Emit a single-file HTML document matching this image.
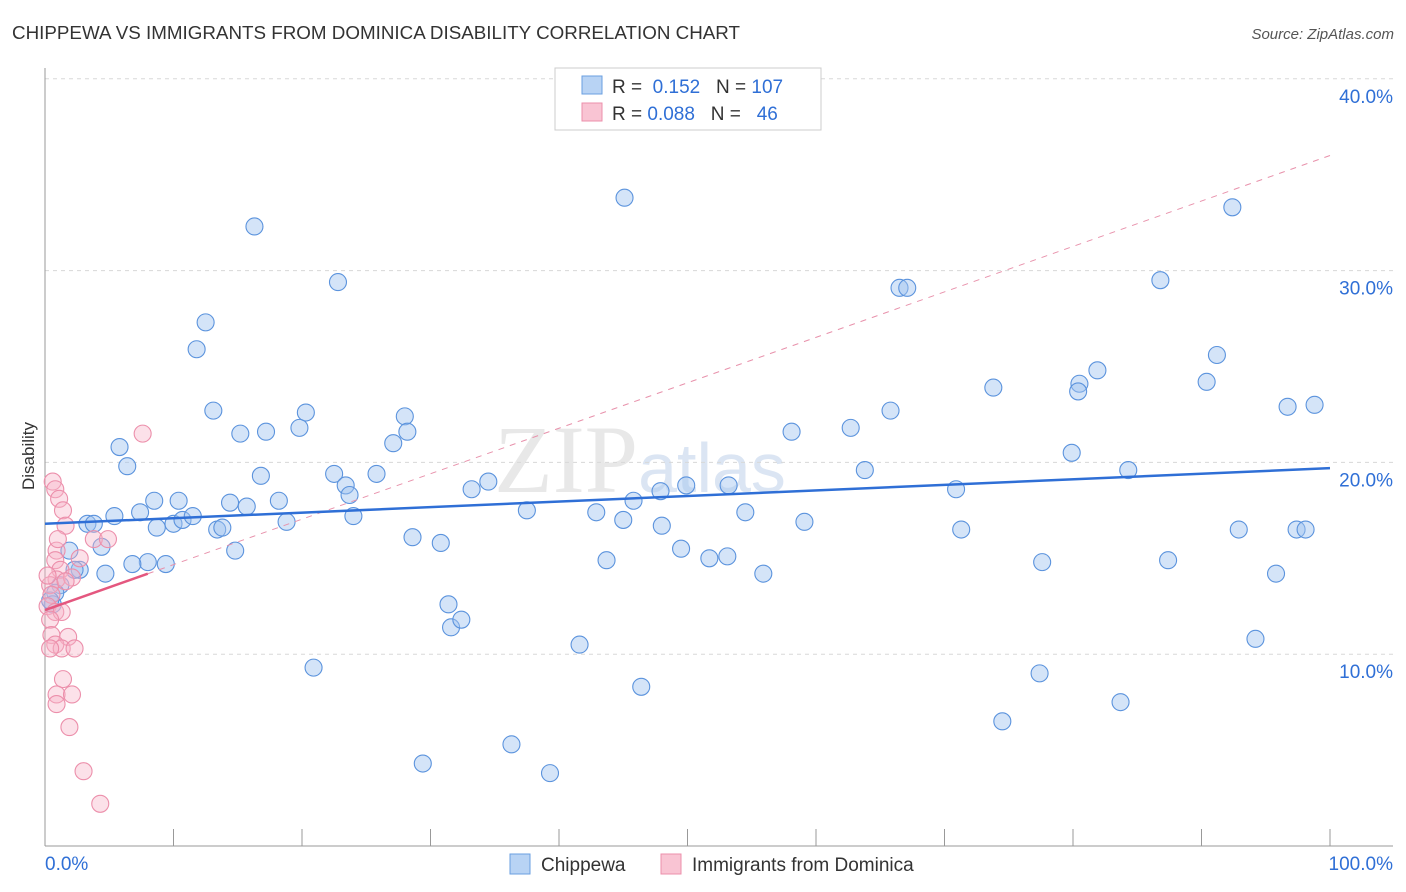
<!DOCTYPE html>
<html><head><meta charset="utf-8"><style>
body{margin:0;background:#fff;font-family:"Liberation Sans",sans-serif}
svg{display:block}
</style></head><body>
<svg id="chart" width="1406" height="892" viewBox="0 0 1406 892" xmlns="http://www.w3.org/2000/svg">
<text x="12" y="39" font-size="18" fill="#333" textLength="728" lengthAdjust="spacingAndGlyphs">CHIPPEWA VS IMMIGRANTS FROM DOMINICA DISABILITY CORRELATION CHART</text>
<text x="1394" y="39" font-size="15" fill="#555" font-style="italic" text-anchor="end">Source: ZipAtlas.com</text>
<text x="34" y="456" font-size="17" fill="#333" text-anchor="middle" transform="rotate(-90 34 456)">Disability</text>
<text x="640" y="492" font-size="96" fill="#e8e8e8" font-family="Liberation Serif,serif" text-anchor="middle">ZIP<tspan fill="#dbe5f3" font-family="Liberation Sans,sans-serif" font-size="70">atlas</tspan></text>
<g id="grid"></g><g id="marks"></g>
<g>
<rect x="555" y="68" width="266" height="62" fill="#fff" stroke="#ccc"/>
<rect x="582" y="76" width="20" height="18" fill="#b8d3f4" stroke="#6a9fe0"/>
<rect x="582" y="103" width="20" height="18" fill="#f9c4d3" stroke="#ec8fab"/>
<text x="612" y="93" font-size="19" fill="#333">R = <tspan fill="#2f6fd6">&#160;0.152</tspan>&#160;&#160;&#160;N = <tspan fill="#2f6fd6">107</tspan></text>
<text x="612" y="120" font-size="19" fill="#333">R = <tspan fill="#2f6fd6">0.088</tspan>&#160;&#160;&#160;N = <tspan fill="#2f6fd6">&#160;&#160;46</tspan></text>
</g>
<g>
<rect x="510" y="854" width="20" height="20" fill="#b8d3f4" stroke="#6a9fe0"/>
<text x="541" y="871" font-size="19" fill="#333">Chippewa</text>
<rect x="661" y="854" width="20" height="20" fill="#f9c4d3" stroke="#ec8fab"/>
<text x="692" y="871" font-size="19" fill="#333">Immigrants from Dominica</text>
</g>
</svg>
<script>
const yTicks=[10,20,30,40];
const xTickLabels=["0.0%","100.0%"];
const blueX=[16.3,45.1,22.8,12.5,11.8,13.1,15.2,17.2,20.3,19.8,28.0,28.2,27.1,5.8,6.4,16.8,22.5,25.8,23.4,23.7,33.2,34.5,8.5,10.4,14.4,15.7,18.2,7.4,5.4,3.3,3.8,8.7,10.0,10.7,11.5,13.4,13.8,18.8,24.0,37.5,42.9,45.0,45.8,47.9,49.9,53.2,48.0,54.5,59.1,58.1,62.7,63.8,65.8,66.5,67.1,73.8,70.9,71.3,79.9,80.5,80.4,81.9,84.3,86.8,90.4,91.2,92.4,92.9,96.7,98.8,97.4,98.1,95.8,94.2,87.4,77.6,77.4,83.7,74.5,55.9,53.1,51.7,49.5,43.7,46.4,41.6,39.3,36.3,29.4,20.9,31.4,31.6,32.4,28.6,30.8,14.8,9.4,8.0,6.8,4.7,4.4,2.7,2.3,1.9,1.2,0.8,0.6,0.4];
const blueY=[32.3,33.8,29.4,27.3,25.9,22.7,21.5,21.6,22.6,21.8,22.4,21.6,21.0,20.8,19.8,19.3,19.4,19.4,18.8,18.3,18.6,19.0,18.0,18.0,17.9,17.7,18.0,17.4,17.2,16.8,16.8,16.6,16.8,17.0,17.2,16.5,16.6,16.9,17.2,17.5,17.4,17.0,18.0,18.5,18.8,18.8,16.7,17.4,16.9,21.6,21.8,19.6,22.7,29.1,29.1,23.9,18.6,16.5,20.5,24.1,23.7,24.8,19.6,29.5,24.2,25.6,33.3,16.5,22.9,23.0,16.5,16.5,14.2,10.8,14.9,14.8,9.0,7.5,6.5,14.2,15.1,15.0,15.5,14.9,8.3,10.5,3.8,5.3,4.3,9.3,12.6,11.4,11.8,16.1,15.8,15.4,14.7,14.8,14.7,14.2,15.6,14.4,14.4,15.4,13.6,13.2,12.6,12.8];
const pinkX=[7.6,0.6,0.8,1.1,1.4,1.6,0.9,1.0,3.8,4.9,2.7,0.8,1.2,0.9,0.4,0.5,0.2,0.8,1.3,0.4,0.5,1.8,0.8,1.3,2.3,0.4,1.4,0.9,2.1,0.9,1.9,3.0,4.3,2.1,1.6,0.2];
const pinkY=[21.5,19.0,18.6,18.1,17.5,16.7,15.4,16.0,16.0,16.0,15.0,14.9,14.4,13.9,13.6,13.1,12.5,12.2,12.2,11.8,11.0,10.9,10.5,10.3,10.3,10.3,8.7,7.9,7.9,7.4,6.2,3.9,2.2,14.0,13.8,14.1];
const blueTrend=[16.8,19.7];
const pinkTrend=[12.3,36.0];
const pinkSolidEnd=8;
const NS="http://www.w3.org/2000/svg";
const X=v=>45+v*12.85, Y=v=>846-v*19.18;
function mk(t,a,p){const e=document.createElementNS(NS,t);for(const k in a)e.setAttribute(k,a[k]);p.appendChild(e);return e;}
const g=document.getElementById('grid'), m=document.getElementById('marks');
yTicks.forEach(t=>{
 const l=mk('line',{x1:45,x2:1393,y1:Y(t),y2:Y(t),stroke:'#d8d8d8','stroke-dasharray':'4,4'},g);
 
 
 const tx=mk('text',{x:1393,y:Y(t)+24,'font-size':19,fill:'#2f6fd6','text-anchor':'end'},g);
 tx.textContent=t.toFixed(1)+'%';
 
 
});
const ax=mk('line',{x1:45,x2:45,y1:68,y2:846,stroke:'#999'},g);


const bx=mk('line',{x1:45,x2:1393,y1:846,y2:846,stroke:'#999'},g);


for(let i=1;i<=10;i++){const t=mk('line',{x1:X(i*10),x2:X(i*10),y1:829,y2:846,stroke:'#999'},g);
 
 }
[[0,'start',45],[1,'end',1393]].forEach(([i,a,x])=>{const t=mk('text',{x:x,y:870,'font-size':19,fill:'#2f6fd6','text-anchor':a},g);t.textContent=xTickLabels[i];
 
 });
blueX.forEach((v,i)=>{const c=mk('circle',{cx:X(v),cy:Y(blueY[i]),r:8.5,fill:'rgba(160,196,240,0.45)',stroke:'#5b93dd','stroke-width':1.1},m);
 
 });
pinkX.forEach((v,i)=>{const c=mk('circle',{cx:X(v),cy:Y(pinkY[i]),r:8.5,fill:'rgba(248,180,200,0.4)',stroke:'#ec8fab','stroke-width':1.1},m);
 
 });
const pAt=x=>pinkTrend[0]+(pinkTrend[1]-pinkTrend[0])*x/100;
const pd=mk('line',{x1:X(pinkSolidEnd),y1:Y(pAt(pinkSolidEnd)),x2:X(100),y2:Y(pAt(100)),stroke:'#e891ab','stroke-dasharray':'6,6','stroke-width':1},m);


const ps=mk('line',{x1:X(0),y1:Y(pAt(0)),x2:X(pinkSolidEnd),y2:Y(pAt(pinkSolidEnd)),stroke:'#e4577f','stroke-width':2.5},m);


const bl=mk('line',{x1:X(0),y1:Y(blueTrend[0]),x2:X(100),y2:Y(blueTrend[1]),stroke:'#2f6fd6','stroke-width':2.5},m);


</script>
</body></html>
